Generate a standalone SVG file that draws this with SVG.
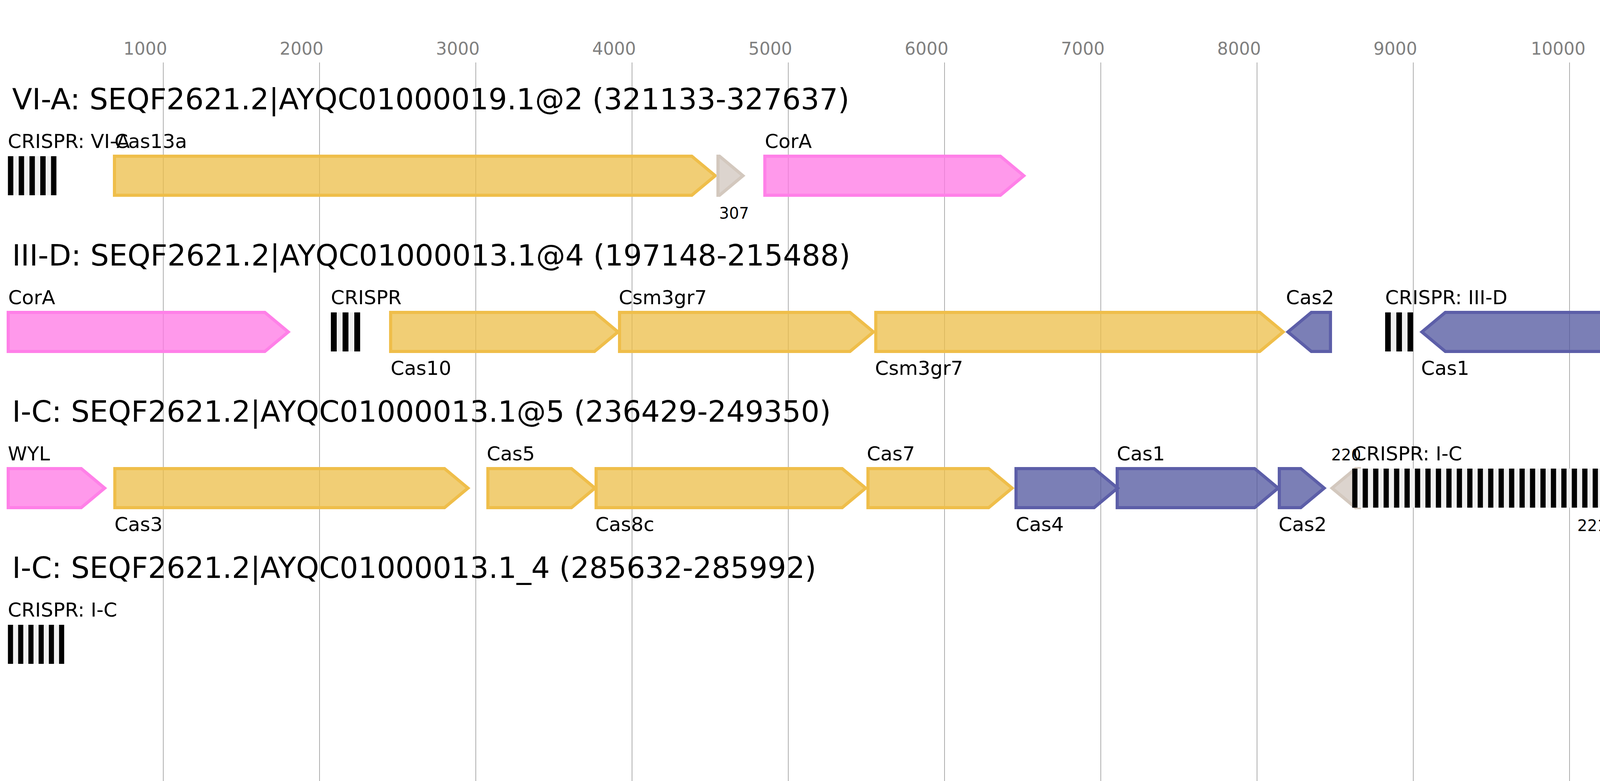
<svg xmlns="http://www.w3.org/2000/svg" width="7536" height="2000" viewBox="0 0 7536 2000">
<style>
text{font-family:"DejaVu Sans","Liberation Sans",sans-serif;fill:#000}
.tick{font-size:44px;fill:#808080}
.title{font-size:75px}
.lbl{font-size:50px}
.num{font-size:40px}
.grid line{stroke:#999;stroke-width:1.6}
.gene{stroke-width:8;stroke-linejoin:miter;stroke-miterlimit:10}
.yel{fill:#ECBE47;fill-opacity:.75;stroke:#EFBE4A}
.pink{fill:#FF77E4;fill-opacity:.75;stroke:#FF80E8}
.blue{fill:#4F549E;fill-opacity:.75;stroke:#5C5EA8}
.red{fill:#DC0718;fill-opacity:.75;stroke:#DF1528}
.gray{fill:#D0C6BE;fill-opacity:.75;stroke:#D3C8BE}
.crbg{fill:#F0F0F0}
.crbar{stroke:#000;stroke-width:100;fill:none}
</style>
<rect width="7536" height="2000" fill="#fff"/>
<g id="axis">
<g class="grid">
<line x1="418" y1="160" x2="418" y2="2000"/><line x1="818" y1="160" x2="818" y2="2000"/><line x1="1218" y1="160" x2="1218" y2="2000"/><line x1="1618" y1="160" x2="1618" y2="2000"/><line x1="2018" y1="160" x2="2018" y2="2000"/><line x1="2418" y1="160" x2="2418" y2="2000"/><line x1="2818" y1="160" x2="2818" y2="2000"/><line x1="3218" y1="160" x2="3218" y2="2000"/><line x1="3618" y1="160" x2="3618" y2="2000"/><line x1="4018" y1="160" x2="4018" y2="2000"/><line x1="4418" y1="160" x2="4418" y2="2000"/><line x1="4818" y1="160" x2="4818" y2="2000"/><line x1="5218" y1="160" x2="5218" y2="2000"/><line x1="5618" y1="160" x2="5618" y2="2000"/><line x1="6018" y1="160" x2="6018" y2="2000"/><line x1="6418" y1="160" x2="6418" y2="2000"/><line x1="6818" y1="160" x2="6818" y2="2000"/><line x1="7218" y1="160" x2="7218" y2="2000"/>
</g>
<g class="ticks">
<text class="tick" x="316" y="140">1000</text><text class="tick" x="716" y="140">2000</text><text class="tick" x="1116" y="140">3000</text><text class="tick" x="1516" y="140">4000</text><text class="tick" x="1916" y="140">5000</text><text class="tick" x="2316" y="140">6000</text><text class="tick" x="2716" y="140">7000</text><text class="tick" x="3116" y="140">8000</text><text class="tick" x="3516" y="140">9000</text><text class="tick" x="3919" y="140">10000</text><text class="tick" x="4319" y="140">11000</text><text class="tick" x="4719" y="140">12000</text><text class="tick" x="5119" y="140">13000</text><text class="tick" x="5519" y="140">14000</text><text class="tick" x="5919" y="140">15000</text><text class="tick" x="6319" y="140">16000</text><text class="tick" x="6719" y="140">17000</text><text class="tick" x="7119" y="140">18000</text>
</g>
</g>
<g id="connectors"></g>

<!-- Row 1: VI-A -->
<g id="row1">
<text class="title" x="31" y="280">VI-A: SEQF2621.2|AYQC01000019.1@2 (321133-327637)</text>
<g id="r1_crispr"><rect class="crbg" x="20.3" y="400" width="124.1" height="100"/><line class="crbar" x1="20.3" y1="450" x2="144.4" y2="450" stroke-dasharray="13.79 13.79"/><text class="lbl" x="20" y="379">CRISPR: VI-A</text></g>
<g id="r1_cas13a"><polygon class="gene yel" points="293,400 1771,400 1831,450 1771,500 293,500"/><text class="lbl" x="293" y="379">Cas13a</text></g>
<g id="r1_307"><polygon class="gene gray" points="1838,400 1842,400 1902,450 1842,500 1838,500"/><text class="num" x="1841" y="560">307</text></g>
<g id="r1_cora"><polygon class="gene pink" points="1958,400 2561,400 2621,450 2561,500 1958,500"/><text class="lbl" x="1958" y="379">CorA</text></g>
</g>

<!-- Row 2: III-D -->
<g id="row2">
<text class="title" x="31" y="680">III-D: SEQF2621.2|AYQC01000013.1@4 (197148-215488)</text>
<g id="r2_cora"><polygon class="gene pink" points="21,800 678,800 738,850 678,900 21,900"/><text class="lbl" x="21" y="779">CorA</text></g>
<g id="r2_crispr1"><rect class="crbg" x="847" y="800" width="75" height="100"/><line class="crbar" x1="847" y1="850" x2="922" y2="850" stroke-dasharray="15 15"/><text class="lbl" x="847" y="779">CRISPR</text></g>
<g id="r2_cas10"><polygon class="gene yel" points="1000,800 1522,800 1582,850 1522,900 1000,900"/><text class="lbl" x="1000" y="960">Cas10</text></g>
<g id="r2_csm3a"><polygon class="gene yel" points="1586,800 2176,800 2236,850 2176,900 1586,900"/><text class="lbl" x="1584" y="779">Csm3gr7</text></g>
<g id="r2_csm3b"><polygon class="gene yel" points="2242,800 3225,800 3285,850 3225,900 2242,900"/><text class="lbl" x="2240" y="960">Csm3gr7</text></g>
<g id="r2_cas2"><polygon class="gene blue" points="3297,850 3357,800 3406,800 3406,900 3357,900"/><text class="lbl" x="3292" y="779">Cas2</text></g>
<g id="r2_crispr2"><rect class="crbg" x="3546" y="800" width="71.6" height="100"/><line class="crbar" x1="3546" y1="850" x2="3617.6" y2="850" stroke-dasharray="14.32 14.32"/><text class="lbl" x="3546" y="779">CRISPR: III-D</text></g>
<g id="r2_cas1"><polygon class="gene blue" points="3640,850 3700,800 4277,800 4277,900 3700,900"/><text class="lbl" x="3638" y="960">Cas1</text></g>
<g id="r2_crispr3"><rect class="crbg" x="4486.5" y="800" width="131" height="100"/><line class="crbar" x1="4486.5" y1="850" x2="4617.5" y2="850" stroke-dasharray="14.556 14.556"/><text class="lbl" x="4486" y="779">CRISPR: III-D</text></g>
<g id="r2_cas6"><polygon class="gene red" points="4625,850 4685,800 4977,800 4977,900 4685,900"/><text class="lbl" x="4618" y="779">Cas6</text></g>
<g id="r2_194"><polygon class="gene gray" points="5022,800 5215,800 5275,850 5215,900 5022,900"/><text class="num" x="5020" y="960">194</text></g>
<g id="r2_deddh"><polygon class="gene pink" points="5283,850 5343,800 5469,800 5469,900 5343,900"/><text class="lbl" x="5278" y="779">DEDDh</text></g>
<g id="r2_196"><polygon class="gene gray" points="5588,800 5610,800 5670,850 5610,900 5588,900"/><text class="num" x="5583" y="960">196</text></g>
<g id="r2_197"><polygon class="gene gray" points="5712,850 5772,800 6558,800 6558,900 5772,900"/><text class="num" x="5706" y="779">197</text></g>
<g id="r2_198"><polygon class="gene gray" points="6676,850 6736,800 6860,800 6860,900 6736,900"/><text class="num" x="6670" y="960">198</text></g>
<g id="r2_wyl"><polygon class="gene pink" points="6966,850 7026,800 7356,800 7356,900 7026,900"/><text class="lbl" x="6963" y="779">WYL</text></g>
</g>

<!-- Row 3: I-C @5 -->
<g id="row3">
<text class="title" x="31" y="1080">I-C: SEQF2621.2|AYQC01000013.1@5 (236429-249350)</text>
<g id="r3_wyl"><polygon class="gene pink" points="21,1200 208,1200 268,1250 208,1300 21,1300"/><text class="lbl" x="20" y="1179">WYL</text></g>
<g id="r3_cas3"><polygon class="gene yel" points="294,1200 1138,1200 1198,1250 1138,1300 294,1300"/><text class="lbl" x="293" y="1360">Cas3</text></g>
<g id="r3_cas5"><polygon class="gene yel" points="1249,1200 1463,1200 1523,1250 1463,1300 1249,1300"/><text class="lbl" x="1246" y="1179">Cas5</text></g>
<g id="r3_cas8c"><polygon class="gene yel" points="1526,1200 2156,1200 2216,1250 2156,1300 1526,1300"/><text class="lbl" x="1524" y="1360">Cas8c</text></g>
<g id="r3_cas7"><polygon class="gene yel" points="2222,1200 2531,1200 2591,1250 2531,1300 2222,1300"/><text class="lbl" x="2219" y="1179">Cas7</text></g>
<g id="r3_cas4"><polygon class="gene blue" points="2601,1200 2801,1200 2861,1250 2801,1300 2601,1300"/><text class="lbl" x="2600" y="1360">Cas4</text></g>
<g id="r3_cas1"><polygon class="gene blue" points="2860,1200 3212,1200 3272,1250 3212,1300 2860,1300"/><text class="lbl" x="2859" y="1179">Cas1</text></g>
<g id="r3_cas2"><polygon class="gene blue" points="3275,1200 3330,1200 3390,1250 3330,1300 3275,1300"/><text class="lbl" x="3273" y="1360">Cas2</text></g>
<g id="r3_220"><polygon class="gene gray" points="3410,1250 3470,1200 3480,1200 3480,1300 3470,1300"/><text class="num" x="3408" y="1179">220</text></g>
<g id="r3_crispr"><rect class="crbg" x="3461.7" y="1200" width="1726.3" height="100"/><line class="crbar" x1="3461.7" y1="1250" x2="5188" y2="1250" stroke-dasharray="13.382 13.382"/><text class="lbl" x="3463" y="1179">CRISPR: I-C</text></g>
<g id="r3_221"><text class="num" x="4038" y="1360">221</text></g>
<g id="r3_222"><text class="num" x="4622" y="1179">222</text></g>
</g>

<!-- Row 4: I-C _4 -->
<g id="row4">
<text class="title" x="31" y="1480">I-C: SEQF2621.2|AYQC01000013.1_4 (285632-285992)</text>
<g id="r4_crispr"><rect class="crbg" x="20.3" y="1600" width="144" height="100"/><line class="crbar" x1="20.3" y1="1650" x2="164.3" y2="1650" stroke-dasharray="13.09 13.09"/><text class="lbl" x="20" y="1579">CRISPR: I-C</text></g>
</g>
</svg>
